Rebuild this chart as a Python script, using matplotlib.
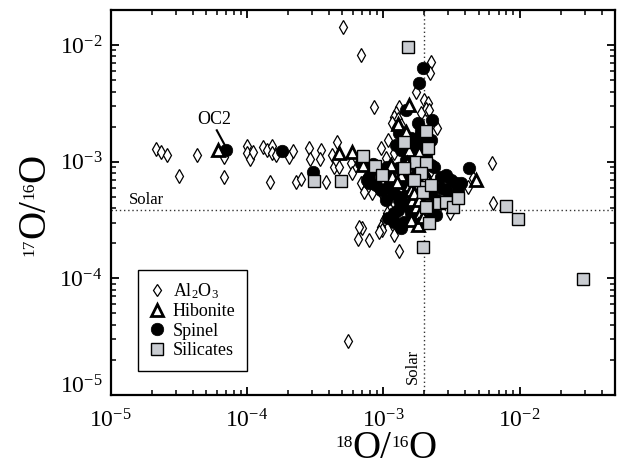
import numpy as np
import matplotlib
matplotlib.use('Agg')
import matplotlib.pyplot as plt
import matplotlib.transforms as mtransforms
from matplotlib.lines import Line2D
from matplotlib.ticker import LogLocator, NullFormatter, FuncFormatter

plt.rcParams['font.family'] = 'serif'
plt.rcParams['font.serif'] = ['Liberation Serif', 'DejaVu Serif']
plt.rcParams['mathtext.fontset'] = 'custom'
plt.rcParams['mathtext.rm'] = 'Liberation Serif'
plt.rcParams['mathtext.it'] = 'Liberation Serif:italic'
plt.rcParams['mathtext.bf'] = 'Liberation Serif:bold'

# ---- data (18O/16O, 17O/16O) ----
al2o3_x = [2.15e-5, 2.33e-5, 2.58e-5, 3.19e-5, 4.33e-5, 6.73e-5, 6.73e-5, 1.0e-4, 1.0e-4, 1.06e-4,
           1.11e-4, 1.30e-4, 1.40e-4, 1.52e-4, 1.52e-4, 1.62e-4, 2.04e-4, 2.18e-4, 1.47e-4, 2.28e-4,
           2.47e-4, 2.86e-4, 2.92e-4, 3.46e-4, 3.42e-4, 3.78e-4, 4.19e-4, 4.59e-4, 4.33e-4, 4.46e-4,
           4.72e-4, 5.75e-4, 5.92e-4, 6.81e-4, 7.20e-4, 8.30e-4, 9.55e-4, 9.84e-4, 9.55e-4, 1.19e-3,
           5.05e-4, 6.89e-4, 2.23e-3, 2.20e-3, 1.73e-3, 8.53e-4, 1.99e-3, 2.11e-3, 2.05e-3, 2.16e-3,
           1.88e-3, 1.30e-3, 1.23e-3, 1.19e-3, 1.27e-3, 1.16e-3, 1.23e-3, 1.34e-3, 2.49e-3, 1.10e-3,
           1.13e-3, 1.20e-3, 1.07e-3, 1.01e-3, 9.55e-4, 9.84e-4, 9.29e-4, 1.20e-3, 1.20e-3, 7.84e-4,
           1.30e-3, 2.87e-3, 3.09e-3, 4.15e-3, 4.51e-3, 7.01e-4, 6.62e-4, 6.55e-4, 6.22e-3, 6.40e-3,
           5.47e-4, 1.46e-3, 1.04e-3, 1.59e-3, 1.09e-3, 2.23e-3]
al2o3_y = [1.28e-3, 1.21e-3, 1.15e-3, 7.55e-4, 1.14e-3, 1.09e-3, 7.36e-4, 1.36e-3, 1.18e-3, 1.05e-3,
           1.21e-3, 1.35e-3, 1.26e-3, 1.36e-3, 1.20e-3, 1.14e-3, 1.09e-3, 1.23e-3, 6.71e-4, 6.71e-4,
           7.16e-4, 1.31e-3, 1.05e-3, 1.26e-3, 1.05e-3, 6.71e-4, 1.14e-3, 1.49e-3, 9.08e-4, 1.04e-3,
           9.08e-4, 9.71e-4, 7.96e-4, 6.55e-4, 5.54e-4, 5.37e-4, 5.54e-4, 6.32e-4, 1.31e-3, 1.18e-3,
           1.43e-2, 8.29e-3, 7.22e-3, 5.81e-3, 3.94e-3, 2.97e-3, 3.39e-3, 3.18e-3, 2.82e-3, 2.78e-3,
           2.61e-3, 2.97e-3, 2.61e-3, 2.44e-3, 2.31e-3, 2.14e-3, 2.00e-3, 2.07e-3, 1.94e-3, 4.70e-4,
           4.12e-4, 4.41e-4, 3.61e-4, 3.17e-4, 2.77e-4, 2.60e-4, 2.52e-4, 2.77e-4, 2.36e-4, 2.13e-4,
           1.73e-4, 6.55e-4, 3.61e-4, 6.11e-4, 7.22e-4, 2.69e-4, 2.74e-4, 2.16e-4, 9.82e-4, 4.41e-4,
           2.90e-5, 1.04e-3, 1.08e-3, 1.39e-3, 1.54e-3, 8.51e-4]

spinel_x = [7.05e-5, 1.82e-4, 3.06e-4, 1.94e-3, 1.83e-3, 2.29e-3, 1.78e-3, 1.30e-3, 1.59e-3, 1.83e-3,
            1.99e-3, 1.73e-3, 2.23e-3, 2.64e-3, 2.87e-3, 3.40e-3, 7.84e-4, 7.84e-4, 1.06e-3, 8.44e-4,
            6.81e-4, 1.27e-3, 7.62e-4, 9.55e-4, 1.13e-3, 1.20e-3, 1.34e-3, 1.27e-3, 1.20e-3, 1.42e-3,
            1.68e-3, 2.11e-3, 2.29e-3, 2.49e-3, 2.23e-3, 2.35e-3, 2.64e-3, 3.13e-3, 3.50e-3, 3.70e-3,
            4.26e-3, 1.38e-3, 1.54e-3, 1.88e-3, 1.42e-3, 1.20e-3, 1.06e-3, 1.34e-3, 1.88e-3, 1.34e-3,
            1.46e-3, 1.73e-3, 1.09e-3, 1.46e-3, 1.30e-3, 1.59e-3, 1.88e-3, 1.09e-3, 1.34e-3, 2.43e-3,
            2.87e-3, 2.05e-3, 1.59e-3, 1.46e-3, 1.23e-3, 1.88e-3, 9.23e-4, 8.78e-4, 2.23e-3, 1.73e-3,
            3.12e-3, 1.04e-3]
spinel_y = [1.25e-3, 1.23e-3, 8.22e-4, 6.34e-3, 4.71e-3, 2.28e-3, 2.14e-3, 1.76e-3, 1.59e-3, 1.64e-3,
            1.49e-3, 1.35e-3, 9.39e-4, 5.93e-4, 5.73e-4, 6.55e-4, 7.45e-4, 6.55e-4, 9.08e-4, 9.58e-4,
            9.71e-4, 8.79e-4, 6.98e-4, 5.73e-4, 6.11e-4, 5.37e-4, 5.02e-4, 3.86e-4, 3.06e-4, 3.06e-4,
            3.28e-4, 3.17e-4, 3.86e-4, 4.70e-4, 5.54e-4, 9.08e-4, 7.45e-4, 5.02e-4, 5.73e-4, 6.55e-4,
            8.79e-4, 4.41e-4, 4.12e-4, 5.37e-4, 7.45e-4, 3.61e-4, 5.93e-4, 2.87e-4, 2.99e-4, 1.26e-3,
            1.04e-3, 7.71e-4, 7.71e-4, 6.32e-4, 4.70e-4, 3.64e-4, 4.26e-4, 3.30e-4, 2.70e-4, 3.50e-4,
            7.71e-4, 1.14e-3, 1.14e-3, 2.78e-3, 1.39e-3, 1.87e-3, 8.51e-4, 6.32e-4, 1.54e-3, 5.19e-4,
            6.98e-4, 4.70e-4]

hibonite_x = [6.08e-5, 4.72e-4, 5.92e-4, 1.54e-3, 1.29e-3, 1.46e-3, 1.54e-3, 1.83e-3, 7.13e-4, 1.16e-3,
              1.34e-3, 1.25e-3, 1.54e-3, 1.59e-3, 1.63e-3, 1.73e-3, 1.86e-3, 1.59e-3, 1.78e-3, 1.99e-3,
              2.05e-3, 4.77e-3, 1.13e-3, 1.68e-3, 1.94e-3, 1.50e-3, 1.99e-3, 1.83e-3]
hibonite_y = [1.25e-3, 1.18e-3, 1.22e-3, 3.07e-3, 2.11e-3, 1.81e-3, 1.26e-3, 1.22e-3, 9.39e-4, 7.55e-4,
              7.71e-4, 6.75e-4, 6.32e-4, 5.73e-4, 4.70e-4, 4.12e-4, 3.66e-4, 3.17e-4, 2.87e-4, 8.22e-4,
              7.45e-4, 6.98e-4, 9.39e-4, 5.37e-4, 3.38e-4, 9.71e-4, 5.37e-4, 4.70e-4]

silicate_x = [3.09e-4, 4.91e-4, 7.13e-4, 8.63e-4, 9.84e-4, 1.52e-3, 2.05e-3, 2.14e-3, 1.42e-3, 1.73e-3,
              2.05e-3, 1.88e-3, 1.94e-3, 1.94e-3, 2.23e-3, 2.05e-3, 2.16e-3, 2.56e-3, 2.87e-3, 3.22e-3,
              3.50e-3, 1.94e-3, 1.42e-3, 1.68e-3, 7.93e-3, 9.77e-3, 2.92e-2]
silicate_y = [6.84e-4, 6.84e-4, 1.11e-3, 9.20e-4, 7.71e-4, 9.59e-3, 1.84e-3, 1.31e-3, 1.49e-3, 1.00e-3,
              9.71e-4, 7.96e-4, 6.11e-4, 5.54e-4, 6.32e-4, 4.12e-4, 2.97e-4, 4.41e-4, 4.55e-4, 4.12e-4,
              4.86e-4, 1.85e-4, 8.79e-4, 6.98e-4, 4.18e-4, 3.25e-4, 9.89e-5]

solar_18 = 2.0e-3
solar_17 = 3.83e-4

fig = plt.figure(figsize=(6.3, 4.75), dpi=100)
ax = fig.add_axes([0.1757, 0.1684, 0.8005, 0.8105])
ax.set_xscale('log'); ax.set_yscale('log')
ax.set_xlim(1e-5, 5e-2); ax.set_ylim(1e-5, 2e-2)

ax.axhline(solar_17, color='#333333', lw=1.0, ls=(0, (1, 2)), zorder=1)
ax.axvline(solar_18, color='#333333', lw=1.0, ls=(0, (1, 2)), zorder=1)

dia = dict(marker='d', ms=7.5, mfc='white', mec='black', mew=0.9, ls='none')
tri = dict(marker='^', ms=9, mfc='white', mec='black', mew=2.0, ls='none')
cir = dict(marker='o', ms=9, mfc='black', mec='black', mew=0.5, ls='none')
sqr = dict(marker='s', ms=8.2, mfc='#c9ccd1', mec='black', mew=1.0, ls='none')

ax.plot(al2o3_x, al2o3_y, zorder=2, **dia)
ax.plot(spinel_x, spinel_y, zorder=3, **cir)
ax.plot(hibonite_x, hibonite_y, zorder=4, **tri)
ax.plot(silicate_x, silicate_y, zorder=5, **sqr)

# OC2 label
ax.plot([6.0e-5, 6.8e-5], [1.86e-3, 1.42e-3], color='black', lw=1.5, zorder=6)
ax.text(5.75e-5, 1.95e-3, 'OC2', fontsize=13, ha='center', va='bottom')

ax.text(1.36e-5, 4.05e-4, 'Solar', fontsize=12, ha='left', va='bottom')
ax.text(1.88e-3, 1.25e-5, 'Solar', fontsize=12, ha='right', va='bottom', rotation=90)

for s in ax.spines.values():
    s.set_linewidth(1.6)
ax.xaxis.set_major_locator(LogLocator(base=10, numticks=10))
ax.yaxis.set_major_locator(LogLocator(base=10, numticks=10))
ax.xaxis.set_minor_locator(LogLocator(base=10, subs=np.arange(2, 10), numticks=20))
ax.yaxis.set_minor_locator(LogLocator(base=10, subs=np.arange(2, 10), numticks=20))
ax.xaxis.set_minor_formatter(NullFormatter()); ax.yaxis.set_minor_formatter(NullFormatter())


def pow_fmt(v, pos, skip=None):
    e = int(round(np.log10(v)))
    if skip is not None and e == skip:
        return ''
    return r'$\mathdefault{10^{%d}}$' % e


ax.xaxis.set_major_formatter(FuncFormatter(pow_fmt))
ax.yaxis.set_major_formatter(FuncFormatter(lambda v, p: pow_fmt(v, p, skip=-5)))
ax.tick_params(which='both', direction='in', top=True, right=True, labelsize=17)
ax.tick_params(which='major', length=6, width=1.3)
ax.tick_params(axis='x', which='major', pad=10)
ax.tick_params(axis='y', which='major', pad=6)
ax.tick_params(which='minor', length=3.5, width=1.1)
# lowest y label sits a little higher in the original
ax.annotate(r'$\mathdefault{10^{-5}}$', xy=(0, 1e-5), xycoords=('axes fraction', 'data'),
            xytext=(-6, 6), textcoords='offset points', ha='right', va='center', fontsize=17)

handles = [Line2D([], [], **dia), Line2D([], [], **tri), Line2D([], [], **cir), Line2D([], [], **sqr)]
handles[0].set_markersize(6.5)
handles[1].set_markersize(8.5)
leg = ax.legend(handles, [r'Al$_2$O$_3$', 'Hibonite', 'Spinel', 'Silicates'],
                loc='upper left', bbox_to_anchor=(0.055, 0.325), fontsize=13,
                frameon=True, fancybox=False, edgecolor='black', framealpha=1,
                handlelength=0.8, handletextpad=0.45, labelspacing=0.12, borderpad=0.65,
                borderaxespad=0)
leg.get_frame().set_linewidth(1.0)


def sup_label(x, y, parts, rotation=0):
    # parts: (text, size, rise in points); pieces are placed one after another
    r = fig.canvas.get_renderer()
    off = 0.0
    for s, size, rise in parts:
        if rotation == 0:
            tr = mtransforms.offset_copy(fig.transFigure, fig=fig, x=off, y=rise, units='points')
        else:
            tr = mtransforms.offset_copy(fig.transFigure, fig=fig, x=-rise, y=off, units='points')
        t = fig.text(x, y, s, fontsize=size, ha='left', va='baseline', rotation=rotation,
                     rotation_mode='anchor', transform=tr)
        bb = t.get_window_extent(r)
        off += (bb.width if rotation == 0 else bb.height) * 72 / fig.dpi


sup_label(0.532, 0.036, [('18', 12.5, 8), ('O/', 28, 0), ('16', 12.5, 8), ('O', 28, 0)])
sup_label(0.070, 0.462, [('17', 12.5, 8), ('O/', 28, 0), ('16', 12.5, 8), ('O', 28, 0)], rotation=90)

fig.savefig('out.png', dpi=100)
